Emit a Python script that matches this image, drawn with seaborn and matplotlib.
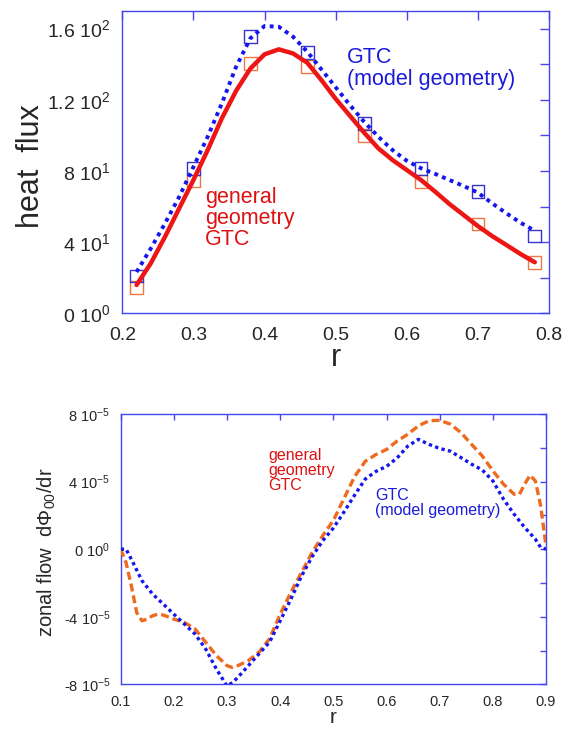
import numpy as np
import matplotlib
matplotlib.use("Agg")
import matplotlib.pyplot as plt
import seaborn as sns

# ---------------- heat flux panel ----------------
r_pts = [0.22, 0.30, 0.38, 0.46, 0.54, 0.62, 0.70, 0.78]
flux_model_pts = [21.0, 81.5, 155.4, 146.6, 106.7, 81.2, 68.3, 43.4]
flux_general_pts = [14.6, 74.3, 140.4, 138.5, 99.8, 74.0, 50.2, 28.4]

r_curve = [0.22, 0.24, 0.26, 0.28, 0.30, 0.32, 0.34, 0.36, 0.38, 0.40,
           0.42, 0.44, 0.46, 0.48, 0.50, 0.52, 0.54, 0.56, 0.58, 0.60,
           0.62, 0.64, 0.66, 0.68, 0.70, 0.72, 0.74, 0.76, 0.78]
flux_model_curve = [23.2, 36.4, 50.5, 65.5, 82.3, 99.2, 118.0, 138.5, 154.5, 161.4,
                    161.0, 155.4, 147.0, 137.0, 127.0, 117.0, 107.6, 99.2, 91.7, 85.7,
                    81.5, 78.3, 74.9, 71.5, 67.8, 61.8, 56.2, 50.9, 46.4]
flux_general_curve = [15.9, 28.1, 43.0, 59.0, 74.9, 91.7, 109.6, 125.0, 137.5, 145.5,
                      148.3, 146.0, 140.8, 131.0, 120.5, 111.0, 101.5, 92.7, 86.1, 80.5,
                      74.9, 68.3, 61.4, 55.2, 49.0, 43.4, 38.4, 33.3, 28.7]

flux_yticks = [0, 20, 40, 60, 80, 100, 120, 140, 160]
flux_yticklabels = [r"0 10$^{0}$", "", r"4 10$^{1}$", "", r"8 10$^{1}$", "",
                    r"1.2 10$^{2}$", "", r"1.6 10$^{2}$"]
flux_xticks = [0.2, 0.3, 0.4, 0.5, 0.6, 0.7, 0.8]
flux_xticklabels = ["0.2", "0.3", "0.4", "0.5", "0.6", "0.7", "0.8"]

# ---------------- zonal flow panel (units of 1e-5) ----------------
r_zonal_model = [0.10, 0.11, 0.12, 0.14, 0.16, 0.18, 0.20, 0.22, 0.24, 0.26,
                 0.28, 0.30, 0.31, 0.32, 0.34, 0.36, 0.38, 0.40, 0.42, 0.44,
                 0.46, 0.48, 0.50, 0.52, 0.54, 0.56, 0.58, 0.60, 0.62, 0.64,
                 0.66, 0.68, 0.70, 0.72, 0.74, 0.76, 0.78, 0.80, 0.82, 0.84,
                 0.86, 0.88, 0.89, 0.90]
zonal_model = [0.0, 0.0, -0.6, -1.87, -2.66, -3.25, -3.85, -4.44, -5.03, -5.92,
               -7.1, -8.1, -7.9, -7.6, -6.9, -6.2, -5.5, -4.24, -2.96, -1.6,
               -0.45, 0.5, 1.25, 2.2, 3.2, 4.15, 4.6, 4.9, 5.4, 6.1,
               6.5, 6.2, 5.96, 5.8, 5.42, 5.03, 4.69, 4.04, 2.96, 2.07,
               1.28, 0.59, 0.1, 0.0]

r_zonal_general = [0.10, 0.11, 0.12, 0.13, 0.14, 0.15, 0.16, 0.17, 0.18, 0.20,
                   0.22, 0.24, 0.26, 0.28, 0.30, 0.31, 0.32, 0.34, 0.36, 0.38,
                   0.40, 0.42, 0.44, 0.46, 0.48, 0.50, 0.52, 0.54, 0.56, 0.58,
                   0.60, 0.62, 0.64, 0.66, 0.68, 0.70, 0.72, 0.74, 0.76, 0.78,
                   0.80, 0.82, 0.84, 0.85, 0.86, 0.87, 0.88, 0.89, 0.895, 0.90]
zonal_general = [0.0, -0.8, -2.17, -3.75, -4.24, -4.14, -3.94, -3.85, -3.9, -4.14,
                 -4.34, -4.73, -5.52, -6.3, -6.9, -7.0, -6.9, -6.6, -6.1, -5.3,
                 -3.85, -2.56, -1.38, -0.2, 0.8, 1.7, 3.0, 4.3, 5.2, 5.6,
                 5.9, 6.4, 6.8, 7.3, 7.6, 7.63, 7.4, 6.9, 6.2, 5.52,
                 4.64, 3.85, 3.25, 3.25, 3.85, 4.38, 4.04, 2.56, 1.38, 0.2]

zonal_yticks = [-8, -6, -4, -2, 0, 2, 4, 6, 8]
zonal_yticklabels = [r"-8 10$^{-5}$", "", r"-4 10$^{-5}$", "", r"0 10$^{0}$", "",
                     r"4 10$^{-5}$", "", r"8 10$^{-5}$"]
zonal_xticks = [0.1, 0.2, 0.3, 0.4, 0.5, 0.6, 0.7, 0.8, 0.9]
zonal_xticklabels = ["0.1", "0.2", "0.3", "0.4", "0.5", "0.6", "0.7", "0.8", "0.9"]

SCALE = 1e-5

# ---------------- style ----------------
sns.set_style("white")
plt.rcParams["font.family"] = ["Liberation Sans", "DejaVu Sans"]
plt.rcParams["mathtext.fontset"] = "custom"
plt.rcParams["mathtext.rm"] = "Liberation Sans"
plt.rcParams["mathtext.it"] = "Liberation Sans:italic"
plt.rcParams["mathtext.bf"] = "Liberation Sans:bold"

FRAME = "#4646f0"
RED = "#ee1515"
BLUE = "#1515ee"
SQ_ORANGE = "#ee7744"
SQ_BLUE = "#3535cc"
ORANGE = "#ee6a1f"
TXT_RED = "#dd1111"
TXT_BLUE = "#1a1ad8"

fig = plt.figure(figsize=(5.7, 7.29), dpi=100)
ax1 = fig.add_axes([0.2146, 0.5702, 0.7486, 0.4151])
ax2 = fig.add_axes([0.2118, 0.0613, 0.7461, 0.3708])

# ---- heat flux ----
sns.scatterplot(x=r_pts, y=flux_general_pts, marker="s", s=85,
                facecolors="none", edgecolors=SQ_ORANGE, linewidth=1.0,
                ax=ax1, zorder=2)
sns.scatterplot(x=r_pts, y=flux_model_pts, marker="s", s=85,
                facecolors="none", edgecolors=SQ_BLUE, linewidth=1.0,
                ax=ax1, zorder=2)
sns.lineplot(x=r_curve, y=flux_general_curve, color=RED, linewidth=3.2,
             ax=ax1, zorder=3)
sns.lineplot(x=r_curve, y=flux_model_curve, color=BLUE, linewidth=2.8,
             linestyle=(0, (1, 1.15)), ax=ax1, zorder=4)

ax1.set_xlim(0.2, 0.8)
ax1.set_ylim(0, 170)
ax1.set_xticks(flux_xticks)
ax1.set_xticklabels(flux_xticklabels)
ax1.set_yticks(flux_yticks)
ax1.set_yticklabels(flux_yticklabels)
ax1.tick_params(axis="both", direction="in", top=True, right=True,
                length=6.8, width=1.0, color=FRAME, labelsize=14)
ax1.tick_params(axis="y", pad=9)
ax1.tick_params(axis="x", pad=9.5)
ax1.set_xlabel("r", fontsize=22)
ax1.set_ylabel("heat  flux", fontsize=22)
ax1.xaxis.set_label_coords(0.5, -0.098)
ax1.yaxis.set_label_coords(-0.18, 0.485)

ax1.text(0.5157, 149.5, "GTC\n(model geometry)", color=TXT_BLUE,
         fontsize=15.5, ha="left", va="top", linespacing=1.07)
ax1.text(0.3162, 71, "general\ngeometry\nGTC", color=TXT_RED,
         fontsize=15.5, ha="left", va="top", linespacing=1.0)

# ---- zonal flow ----
sns.lineplot(x=r_zonal_general, y=np.array(zonal_general) * SCALE, color=ORANGE,
             linewidth=2.4, linestyle=(0, (2.4, 1.2)), ax=ax2, zorder=3)
sns.lineplot(x=r_zonal_model, y=np.array(zonal_model) * SCALE, color=BLUE,
             linewidth=2.4, linestyle=(0, (1, 1)), ax=ax2, zorder=4)

ax2.set_xlim(0.1, 0.9)
ax2.set_ylim(-8 * SCALE, 8 * SCALE)
ax2.set_xticks(zonal_xticks)
ax2.set_xticklabels(zonal_xticklabels)
ax2.set_yticks(np.array(zonal_yticks) * SCALE)
ax2.set_yticklabels(zonal_yticklabels)
ax2.tick_params(axis="both", direction="in", top=True, right=True,
                length=4.2, width=1.0, color=FRAME, labelsize=10.5)
ax2.tick_params(axis="y", pad=7.5)
ax2.tick_params(axis="x", pad=7.5)
ax2.set_xlabel("r", fontsize=15)
ax2.set_ylabel(r"zonal flow  d$\Phi_{00}$/dr", fontsize=14.5)
ax2.xaxis.set_label_coords(0.5, -0.088)
ax2.yaxis.set_label_coords(-0.147, 0.49)

ax2.text(0.377, 6.0 * SCALE, "general\ngeometry\nGTC", color=TXT_RED,
         fontsize=11.5, ha="left", va="top", linespacing=1.0)
ax2.text(0.578, 3.6 * SCALE, "GTC\n(model geometry)", color=TXT_BLUE,
         fontsize=11.5, ha="left", va="top", linespacing=1.0)

for ax in (ax1, ax2):
    for sp in ax.spines.values():
        sp.set_color(FRAME)
        sp.set_linewidth(1.0)
        sp.set_visible(True)
    leg = ax.get_legend()
    if leg is not None:
        leg.remove()

fig.savefig("out.png", dpi=100)
